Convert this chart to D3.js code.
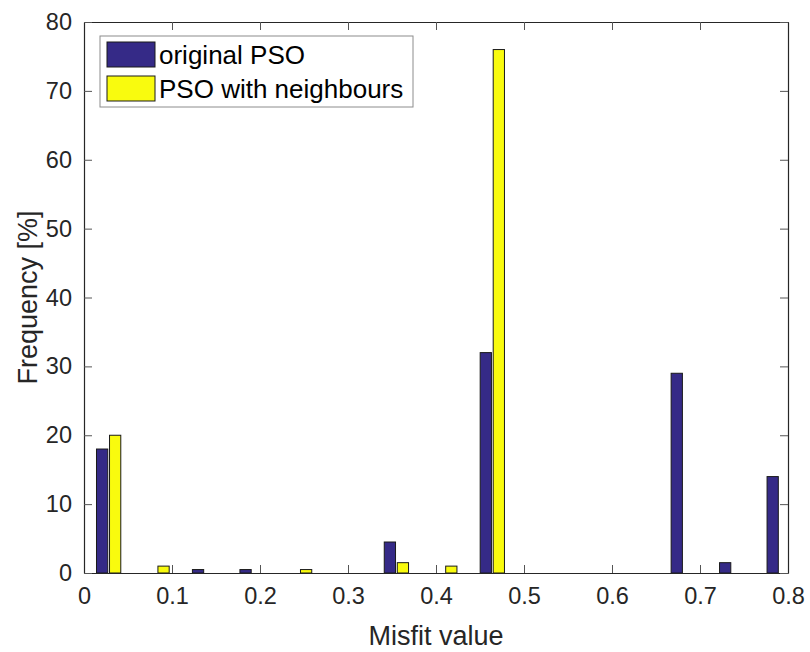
<!DOCTYPE html>
<html>
<head>
<meta charset="utf-8">
<script src="https://cdn.jsdelivr.net/npm/d3@7"></script>
<style>
  body { margin: 0; background: #fff; }
  text { font-family: "Liberation Sans", Arial, Helvetica, sans-serif; }
</style>
</head>
<body>
<div id="holder"></div>
<script>
// histogram bin centres (misfit value)
const binCenters = [0.028, 0.083, 0.137, 0.191, 0.245, 0.300, 0.355, 0.410, 0.464, 0.518, 0.573, 0.627, 0.681, 0.736, 0.790];
// frequency [%]
const originalPSO   = [18, 0, 0.5, 0.5, 0, 0, 4.5, 0, 32, 0, 0, 0, 29, 1.5, 14];
const neighboursPSO = [20, 1, 0, 0, 0.5, 0, 1.5, 1, 76, 0, 0, 0, 0, 0, 0];
const seriesNames = ["original PSO", "PSO with neighbours"];
const xTicks = [0, 0.1, 0.2, 0.3, 0.4, 0.5, 0.6, 0.7, 0.8];
const yTicks = [0, 10, 20, 30, 40, 50, 60, 70, 80];

const width = 810;
const height = 652;
const plotLeft = 84, plotRight = 788, plotTop = 22, plotBottom = 573;
const colors = ["#352a87", "#f9fb0e"];
const axisColor = "#262626";

const x = d3.scaleLinear().domain([0, 0.8]).range([plotLeft, plotRight]);
const y = d3.scaleLinear().domain([0, 80]).range([plotBottom, plotTop]);

const barW = 0.0128;
const offsets = [-0.0074, 0.0074];

const svg = d3.select("#holder")
    .append("svg")
    .attr("width", width)
    .attr("height", height);

// bars
const series = [originalPSO, neighboursPSO];
series.forEach((vals, s) => {
    svg.append("g")
        .selectAll("rect")
        .data(vals)
        .enter()
        .append("rect")
        .attr("x", (d, i) => x(binCenters[i] + offsets[s] - barW / 2))
        .attr("y", d => y(d))
        .attr("width", x(barW) - x(0))
        .attr("height", d => y(0) - y(d))
        .attr("fill", colors[s])
        .attr("stroke", "#1a1a1a")
        .attr("stroke-width", 1);
});

// axes (box with inward ticks)
const tickLen = 8;
const fontTick = 23.5;

const xAxisB = d3.axisBottom(x).tickValues(xTicks).tickSizeInner(-tickLen).tickSizeOuter(0).tickPadding(14).tickFormat(d3.format("~g"));
const xAxisT = d3.axisTop(x).tickValues(xTicks).tickSizeInner(-tickLen).tickSizeOuter(0).tickFormat("");
const yAxisL = d3.axisLeft(y).tickValues(yTicks).tickSizeInner(-tickLen).tickSizeOuter(0).tickPadding(12);
const yAxisR = d3.axisRight(y).tickValues(yTicks).tickSizeInner(-tickLen).tickSizeOuter(0).tickFormat("");

function styleAxis(g) {
    g.select(".domain").attr("stroke", axisColor).attr("stroke-width", 1.2);
    g.selectAll(".tick line").attr("stroke", "#555").attr("stroke-width", 1);
    g.selectAll(".tick text")
        .attr("fill", axisColor)
        .style("font-size", fontTick + "px")
        .style("font-family", "'Liberation Sans', Arial, sans-serif");
}

svg.append("g").attr("transform", `translate(0,${plotBottom})`).call(xAxisB).call(styleAxis);
svg.append("g").attr("transform", `translate(0,${plotTop})`).call(xAxisT).call(styleAxis);
svg.append("g").attr("transform", `translate(${plotLeft},0)`).call(yAxisL).call(styleAxis);
svg.append("g").attr("transform", `translate(${plotRight},0)`).call(yAxisR).call(styleAxis);

// axis labels
svg.append("text")
    .attr("x", (plotLeft + plotRight) / 2)
    .attr("y", 645)
    .attr("text-anchor", "middle")
    .attr("fill", axisColor)
    .style("font-size", "27px")
    .text("Misfit value");

svg.append("text")
    .attr("transform", `translate(37,${(plotTop + plotBottom) / 2}) rotate(-90)`)
    .attr("text-anchor", "middle")
    .attr("fill", axisColor)
    .style("font-size", "27px")
    .text("Frequency [%]");

// legend
const legend = svg.append("g");
legend.append("rect")
    .attr("x", 100).attr("y", 36)
    .attr("width", 313).attr("height", 71)
    .attr("fill", "#fff")
    .attr("stroke", "#8c8c8c")
    .attr("stroke-width", 1);

seriesNames.forEach((name, i) => {
    const yy = 42 + i * 34;
    legend.append("rect")
        .attr("x", 107).attr("y", yy)
        .attr("width", 48).attr("height", 25)
        .attr("fill", colors[i])
        .attr("stroke", "#1a1a1a")
        .attr("stroke-width", 1);
    legend.append("text")
        .attr("x", 159)
        .attr("y", yy + 22)
        .attr("fill", "#000")
        .style("font-size", "26px")
        .text(name);
});
</script>
</body>
</html>
